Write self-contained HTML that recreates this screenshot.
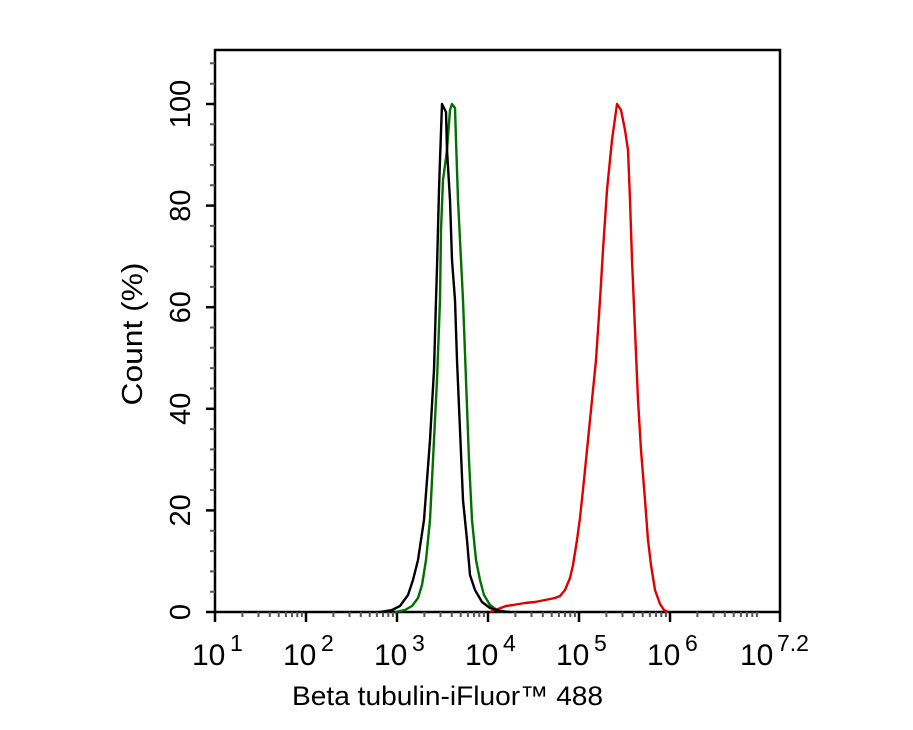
<!DOCTYPE html>
<html><head><meta charset="utf-8"><style>body{margin:0;background:#fff}svg{display:block}</style></head><body>
<svg width="913" height="730" xmlns="http://www.w3.org/2000/svg" font-family="Liberation Sans, Arial, sans-serif">
<rect width="913" height="730" fill="#fff"/>
<g stroke="#000" stroke-width="2.5" fill="none">
<path d="M215,50 H780 V612 H215 Z"/>
</g>
<g stroke="#000" stroke-width="2.5">
<line x1="206" y1="612" x2="215" y2="612"/><line x1="206" y1="510.4" x2="215" y2="510.4"/><line x1="206" y1="408.8" x2="215" y2="408.8"/><line x1="206" y1="307.2" x2="215" y2="307.2"/><line x1="206" y1="205.6" x2="215" y2="205.6"/><line x1="206" y1="104" x2="215" y2="104"/>
<line x1="215" y1="612" x2="215" y2="622"/><line x1="306" y1="612" x2="306" y2="622"/><line x1="397" y1="612" x2="397" y2="622"/><line x1="488" y1="612" x2="488" y2="622"/><line x1="579" y1="612" x2="579" y2="622"/><line x1="670" y1="612" x2="670" y2="622"/><line x1="780" y1="612" x2="780" y2="622"/>
</g>
<g stroke="#555" stroke-width="2">
<path d="M210,591.7H215M210,571.4H215M210,551.1H215M210,530.7H215M210,490.1H215M210,469.8H215M210,449.4H215M210,429.1H215M210,388.5H215M210,368.1H215M210,347.8H215M210,327.5H215M210,286.9H215M210,266.6H215M210,246.2H215M210,225.9H215M210,185.3H215M210,165H215M210,144.6H215M210,124.3H215M210,83.7H215M210,63.3H215"/>
<path d="M242.4,612v5M258.5,612v5M269.8,612v5M278.7,612v5M285.9,612v5M292,612v5M297.3,612v5M301.9,612v5
M333.4,612v5M349.5,612v5M360.8,612v5M369.7,612v5M376.9,612v5M383,612v5M388.3,612v5M392.9,612v5
M424.4,612v5M440.5,612v5M451.8,612v5M460.7,612v5M467.9,612v5M474,612v5M479.3,612v5M483.9,612v5
M515.4,612v5M531.5,612v5M542.8,612v5M551.7,612v5M558.9,612v5M565,612v5M570.3,612v5M574.9,612v5
M606.4,612v5M622.5,612v5M633.8,612v5M642.7,612v5M649.9,612v5M656,612v5M661.3,612v5M665.9,612v5
M697.4,612v5M713.5,612v5M724.8,612v5M733.7,612v5M740.9,612v5M747,612v5M752.3,612v5M756.9,612v5"/>
</g>
<g fill="none" stroke-width="2.4" stroke-linejoin="round">
<polyline stroke="#e00000" points="490,612 498,609 506,606 513,605 525,603 535,602 545,600 555,598 560,596 565,590 570,578 573,565 577,540 580,518 584,480 588,440 592,400 596,360 600,300 603,250 607,190 612,140 617,104 621,110 625,130 628,150 630,200 632,260 635,330 638,400 641,450 645,500 648,540 651,565 655,590 660,604 664,610 668,612"/>
<polyline stroke="#007000" points="395,612 405,610 412,606 418,598 422,585 426,560 430,520 434,440 437,380 440,300 441,230 443,180 447,150 450,110 452,104 455,108 456,140 458,200 461,260 463,300 466,380 469,460 472,520 476,560 480,580 484,595 490,605 498,611 505,612"/>
<polyline stroke="#000" points="380,612 392,610 400,606 408,595 413,580 418,560 424,520 430,440 434,370 436,300 437,268 439,190 440,160 442,104 446,112 447,150 450,200 452,260 455,300 457,360 460,430 463,500 467,540 470,575 475,590 482,602 490,608 500,611 510,612"/>
</g>
<g style="font-size:29px" fill="#000" text-anchor="middle">
<text transform="translate(190,612) rotate(-90)">0</text>
<text transform="translate(190,510.4) rotate(-90)">20</text>
<text transform="translate(190,408.8) rotate(-90)">40</text>
<text transform="translate(190,307.2) rotate(-90)">60</text>
<text transform="translate(190,205.6) rotate(-90)">80</text>
<text transform="translate(190,104) rotate(-90)">100</text>
<text transform="translate(142,334) rotate(-90)" textLength="143" lengthAdjust="spacingAndGlyphs">Count  (%)</text>
</g>
<g fill="#000">
<g style="font-size:30px">
<text x="192" y="665">10</text><text x="283" y="665">10</text><text x="374" y="665">10</text><text x="465" y="665">10</text><text x="556" y="665">10</text><text x="647" y="665">10</text><text x="740" y="665">10</text>
</g>
<g style="font-size:23px">
<text x="230" y="651">1</text><text x="321" y="651">2</text><text x="412" y="651">3</text><text x="503" y="651">4</text><text x="594" y="651">5</text><text x="685" y="651">6</text><text x="777" y="651">7.2</text>
</g>
</g>
<text x="292" y="705" style="font-size:27px" fill="#000" textLength="311" lengthAdjust="spacingAndGlyphs">Beta tubulin-iFluor™ 488</text>
</svg>
</body></html>
